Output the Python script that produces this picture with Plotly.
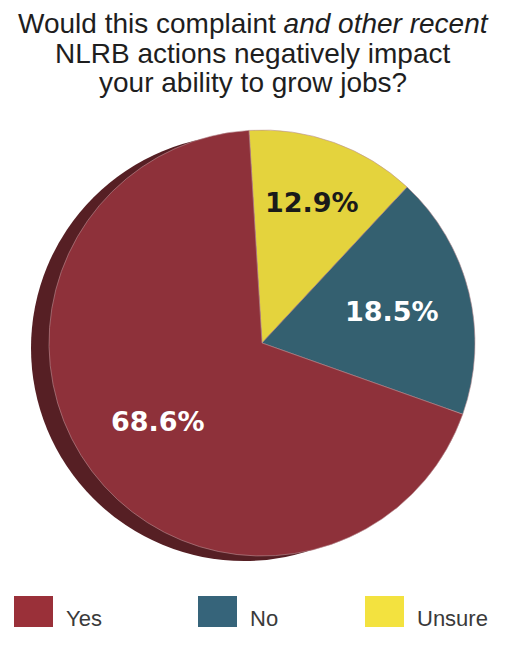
import math
import plotly.graph_objects as go

# ---- data ----
categories = ["Yes", "No", "Unsure"]
values = [68.6, 18.5, 12.9]
slice_colors = ["#8E313A", "#346070", "#E4D33D"]
label_colors = ["#FFFFFF", "#FFFFFF", "#1A1A1A"]
legend_colors = ["#9A3039", "#36647A", "#F3E23F"]
shadow_color = "#561F24"
title_lines = ["Would this complaint <i>and other recent</i>",
               "NLRB actions negatively impact",
               "your ability to grow jobs?"]

# ---- geometry (page pixels; page body has an 8px margin) ----
OFF = 8
W, H = 506 - OFF, 653 - OFF
def fx(x): return (x - OFF) / W
def fy(y): return 1 - (y - OFF) / H

CX, CY, R = 262, 343, 213           # pie centre / radius in page px
SX, SY = 244, 348                   # shadow centre
START = -3.5                        # degrees clockwise from 12 o'clock
label_frac = [0.61, 0.63, 0.70]     # radial placement of value labels

fig = go.Figure()

fig.add_trace(go.Pie(
    values=[1], labels=["shadow"], sort=False,
    marker=dict(colors=[shadow_color], line=dict(width=0)),
    textinfo="none", hoverinfo="skip", showlegend=False,
    domain=dict(x=[fx(SX - R), fx(SX + R)], y=[fy(SY + R), fy(SY - R)]),
))

# drawn clockwise from the top: Unsure, No, Yes
order = list(range(len(values)))[::-1]
fig.add_trace(go.Pie(
    labels=[categories[i] for i in order],
    values=[values[i] for i in order],
    sort=False, direction="clockwise", rotation=START,
    marker=dict(colors=[slice_colors[i] for i in order],
                line=dict(color="#b98f93", width=0.6)),
    textinfo="none", showlegend=False,
    domain=dict(x=[fx(CX - R), fx(CX + R)], y=[fy(CY + R), fy(CY - R)]),
))

annotations = []
# value labels placed at each slice's mid-angle
total = sum(values)
acc = START
for i in order:
    span = 360 * values[i] / total
    mid = math.radians(acc + span / 2)
    acc += span
    r = label_frac[i] * R
    px = CX + r * math.sin(mid)
    py = CY - r * math.cos(mid)
    annotations.append(dict(text=f"{values[i]:.1f}%", xref="paper", yref="paper",
                            x=fx(px), y=fy(py), xanchor="center", yanchor="middle",
                            showarrow=False,
                            font=dict(family="DejaVu Sans", size=27, weight="bold",
                                      color=label_colors[i])))

# title lines
for line, base in zip(title_lines, [33, 64, 93]):
    annotations.append(dict(text=line, xref="paper", yref="paper",
                            x=fx(253), y=fy(base - 10), xanchor="center", yanchor="middle",
                            showarrow=False,
                            font=dict(family="Liberation Sans", size=28, color="#1E1E1E")))

# custom legend with large swatches
legend_x = [14, 198, 365]
shapes = []
for name, col, x0 in zip(categories, legend_colors, legend_x):
    shapes.append(dict(type="rect", xref="paper", yref="paper",
                       x0=fx(x0), x1=fx(x0 + 39), y0=fy(627), y1=fy(596),
                       fillcolor=col, line=dict(width=0)))
    annotations.append(dict(text=name, xref="paper", yref="paper",
                            x=fx(x0 + 50), y=fy(618), xanchor="left", yanchor="middle",
                            showarrow=False,
                            font=dict(family="Liberation Sans", size=22, color="#3A3A3A")))

fig.update_layout(
    width=W, height=H,
    margin=dict(l=0, r=0, t=0, b=0),
    paper_bgcolor="white", plot_bgcolor="white",
    shapes=shapes, annotations=annotations,
)

fig.write_html("out.html")
